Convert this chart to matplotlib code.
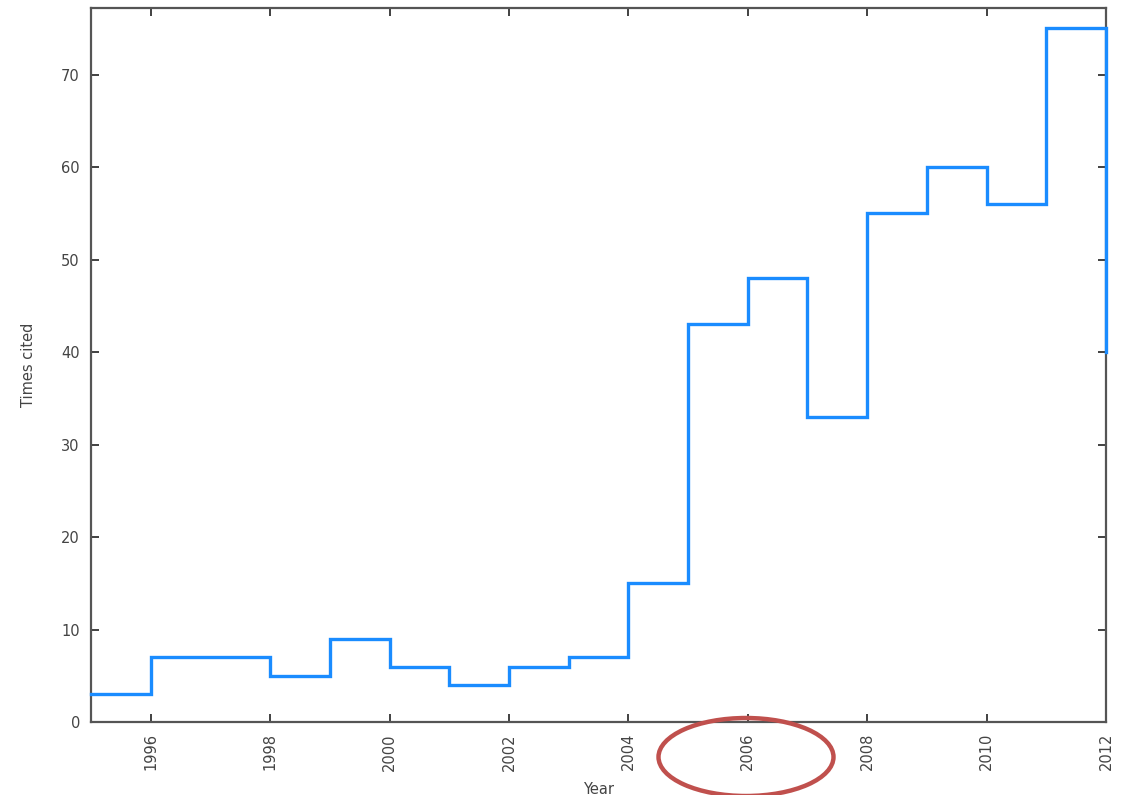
import matplotlib
matplotlib.use("Agg")
import matplotlib.pyplot as plt
from matplotlib.patches import Ellipse

years = [1995, 1996, 1997, 1998, 1999, 2000, 2001, 2002, 2003, 2004, 2005,
         2006, 2007, 2008, 2009, 2010, 2011, 2012]
times_cited = [3, 7, 7, 5, 9, 6, 4, 6, 7, 15, 43, 48, 33, 55, 60, 56, 75, 40]
x_ticks = [1996, 1998, 2000, 2002, 2004, 2006, 2008, 2010, 2012]
y_ticks = [0, 10, 20, 30, 40, 50, 60, 70]

fig = plt.figure(figsize=(11.22, 7.95), dpi=100)
ax = fig.add_axes([91/1122, 1-722/795, (1106-91)/1122, (722-8)/795])

ax.step(years, times_cited, where="post", color="#1a8cff", lw=2.4,
        solid_joinstyle="miter", clip_on=False, zorder=3)

ax.set_xlim(1995, 2012)
ax.set_ylim(0, 77.2)
ax.set_xticks(x_ticks)
ax.set_yticks(y_ticks)
ax.set_xticklabels([str(t) for t in x_ticks], rotation=90)

txtc = "#444444"
ax.tick_params(direction="in", length=6, width=1.3, color="#333333",
               top=True, right=True, labelsize=10.5, labelcolor=txtc, pad=8)
for s in ax.spines.values():
    s.set_color("#555555")
    s.set_linewidth(1.6)

ax.set_ylabel("Times cited", fontsize=10.5, color=txtc, labelpad=18)
ax.set_xlabel("Year", fontsize=10.5, color=txtc, labelpad=8)

ell = Ellipse((746/1122, 1-757/795), 175/1122, 78/795,
              transform=fig.transFigure, fill=False, edgecolor="#c0504d",
              lw=3.2, clip_on=False)
fig.add_artist(ell)

fig.savefig("out.png", dpi=100)
